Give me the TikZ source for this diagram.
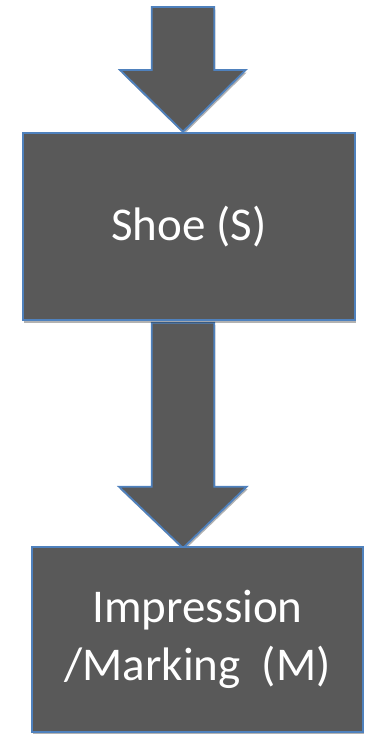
\documentclass[tikz,border=0pt]{standalone}
\usepackage{fontspec}
\setmainfont{Carlito}
\usetikzlibrary{shadows}
\definecolor{boxgray}{HTML}{595959}
\definecolor{edgeblue}{HTML}{4F81BD}
\begin{document}
\begin{tikzpicture}[x=1pt,y=-1pt,
  softshadow/.style={drop shadow={shadow xshift=1pt, shadow yshift=-2.5pt, opacity=0.3, fill=black}},
  block/.style={draw=edgeblue, line width=1.8pt, fill=boxgray, text=white,
    font=\fontsize{47}{58.5}\selectfont, align=center, inner sep=0pt, softshadow},
  flowarrow/.style={draw=edgeblue, line width=1.8pt, fill=boxgray, line join=miter, softshadow}]
\useasboundingbox (0,0) rectangle (370,734);

% block arrow entering the first box
\coordinate (tipA) at (183,131.7);
\filldraw[flowarrow] (151.7,7) -- (214.3,7) -- (214.3,70) -- (245.7,70)
  -- (tipA) -- (120,70) -- (151.7,70) -- cycle;

% block arrow between the two boxes
\coordinate (tipB) at (183,548);
\filldraw[flowarrow] (151.7,322.7) -- (214.3,322.7) -- (214.3,486.7) -- (246.7,486.7)
  -- (tipB) -- (119,486.7) -- (151.7,486.7) -- cycle;

% the two boxes
\node[block, minimum width=332.3pt, minimum height=186.7pt] (shoe) at (188.8,226.7) {Shoe (S)};
\node[block, minimum width=331.6pt, minimum height=185.7pt] (mark) at (197.5,639.5)
  {Impression\\/Marking\ \ (M)};
\end{tikzpicture}
\end{document}
